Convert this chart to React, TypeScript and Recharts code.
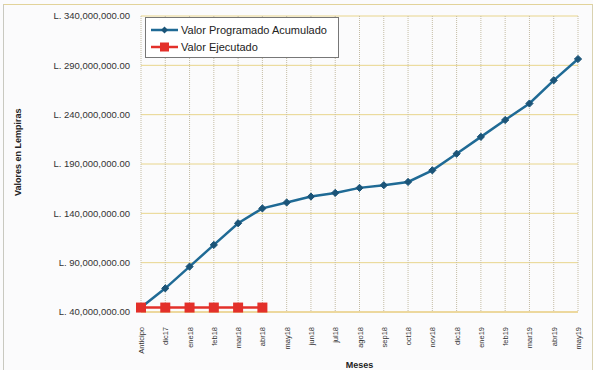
import React from "react";
import {
  LineChart,
  Line,
  XAxis,
  YAxis,
  CartesianGrid,
  Legend,
} from "recharts";

const months = [
  "Anticipo", "dic17", "ene18", "feb18", "mar18", "abr18", "may18", "jun18",
  "jul18", "ago18", "sep18", "oct18", "nov18", "dic18", "ene19", "feb19",
  "mar19", "abr19", "may19",
];

const programado = [
  44.5, 64, 86, 108, 130, 145, 151, 157, 160.7, 165.8, 168.5, 171.8, 183.6,
  200.4, 217.5, 234.6, 251.3, 274.8, 296.4,
].map((v) => v * 1e6);

const ejecutado = [44.5, 44.5, 44.5, 44.5, 44.5, 44.5].map((v) => v * 1e6);

const yTicks = [40, 90, 140, 190, 240, 290, 340].map((v) => v * 1e6);

const data = months.map((m, i) => ({
  mes: m,
  programado: programado[i],
  ejecutado: i < ejecutado.length ? ejecutado[i] : null,
}));

const BLUE = "#1f6a95";
const BLUE_DOT = "#1b5478";
const RED = "#e3302a";
const FONT = "'Liberation Sans', Arial, sans-serif";

const fmt = (v: number) =>
  "L. " +
  v.toLocaleString("en-US", { minimumFractionDigits: 2, maximumFractionDigits: 2 });

const Diamond = (props: any) => {
  const { cx, cy } = props;
  if (cx == null || cy == null) return null;
  const r = 3.6;
  return (
    <polygon
      points={`${cx},${cy - r} ${cx + r},${cy} ${cx},${cy + r} ${cx - r},${cy}`}
      fill={BLUE_DOT}
      stroke={BLUE_DOT}
    />
  );
};

const Square = (props: any) => {
  const { cx, cy, value } = props;
  if (cx == null || cy == null || value == null) return null;
  return <rect x={cx - 5} y={cy - 5} width={10} height={10} fill={RED} />;
};

const MonthTick = (props: any) => {
  const { x, y, payload } = props;
  return (
    <text
      x={0}
      y={0}
      transform={`translate(${x + 3},${y + 7}) rotate(-90)`}
      textAnchor="end"
      fontSize={7.5}
      fontFamily={FONT}
      fill="#333"
    >
      {payload.value}
    </text>
  );
};

const LegendBox = () => (
  <div
    style={{
      width: 194,
      height: 41,
      border: "1px solid #777",
      background: "#fff",
      fontFamily: FONT,
      fontSize: 11,
      color: "#222",
      boxSizing: "border-box",
      paddingTop: 3,
    }}
  >
    {[
      { label: "Valor Programado Acumulado", color: BLUE, square: false },
      { label: "Valor Ejecutado", color: RED, square: true },
    ].map((e) => (
      <div key={e.label} style={{ display: "flex", alignItems: "center", height: 17 }}>
        <svg width={30} height={12} style={{ marginLeft: 4 }}>
          <line x1={1} y1={6} x2={28} y2={6} stroke={e.color} strokeWidth={2.5} />
          {e.square ? (
            <rect x={10} y={1.5} width={9} height={9} fill={e.color} />
          ) : (
            <polygon points="14.5,2.5 18,6 14.5,9.5 11,6" fill={BLUE_DOT} />
          )}
        </svg>
        <span style={{ marginLeft: 1 }}>{e.label}</span>
      </div>
    ))}
  </div>
);

export default function App() {
  return (
    <div
      style={{
        position: "absolute",
        left: 0,
        top: 0,
        width: 593,
        height: 370,
        background: "#fbfbfc",
      }}
    >
      <div
        style={{
          position: "absolute",
          left: 3,
          top: 4,
          width: 588,
          height: 370,
          borderLeft: "1px solid #c9c9c0",
          borderTop: "1px solid #e2d39a",
          borderRight: "1px solid #d9d2b0",
        }}
      />
      <LineChart
        width={593}
        height={370}
        data={data}
        margin={{ top: 16, right: 15, left: 0, bottom: 0 }}
        style={{ fontFamily: FONT }}
      >
        <CartesianGrid vertical={false} stroke="#e8d58c" strokeWidth={1} />
        <CartesianGrid horizontal={false} stroke="#c4bca4" strokeDasharray="1 1" />
        <XAxis
          dataKey="mes"
          interval={0}
          height={58}
          tickLine={false}
          axisLine={{ stroke: "#e8c878" }}
          tick={<MonthTick />}
          label={{
            value: "Meses",
            position: "insideBottom",
            offset: 2,
            fontSize: 9,
            fontWeight: "bold",
            fill: "#222",
            fontFamily: FONT,
          }}
        />
        <YAxis
          width={141}
          domain={[40e6, 340e6]}
          ticks={yTicks}
          interval={0}
          tickFormatter={fmt}
          tickLine={false}
          axisLine={false}
          tickSize={0}
          tickMargin={11}
          tick={{ fontSize: 9.5, fill: "#333", fontFamily: FONT }}
          label={{
            value: "Valores en Lempiras",
            angle: -90,
            position: "insideLeft",
            offset: 18,
            fontSize: 9,
            fontWeight: "bold",
            fill: "#222",
            fontFamily: FONT,
            dy: 32,
          }}
        />
        <Legend
          layout="vertical"
          align="center"
          verticalAlign="middle"
          wrapperStyle={{ left: 145, top: 17, width: 194 }}
          content={<LegendBox />}
        />
        <Line
          dataKey="programado"
          stroke={BLUE}
          strokeWidth={2.5}
          dot={<Diamond />}
          activeDot={false}
          isAnimationActive={false}
        />
        <Line
          dataKey="ejecutado"
          stroke={RED}
          strokeWidth={2.5}
          dot={<Square />}
          activeDot={false}
          connectNulls={false}
          isAnimationActive={false}
        />
      </LineChart>
    </div>
  );
}
